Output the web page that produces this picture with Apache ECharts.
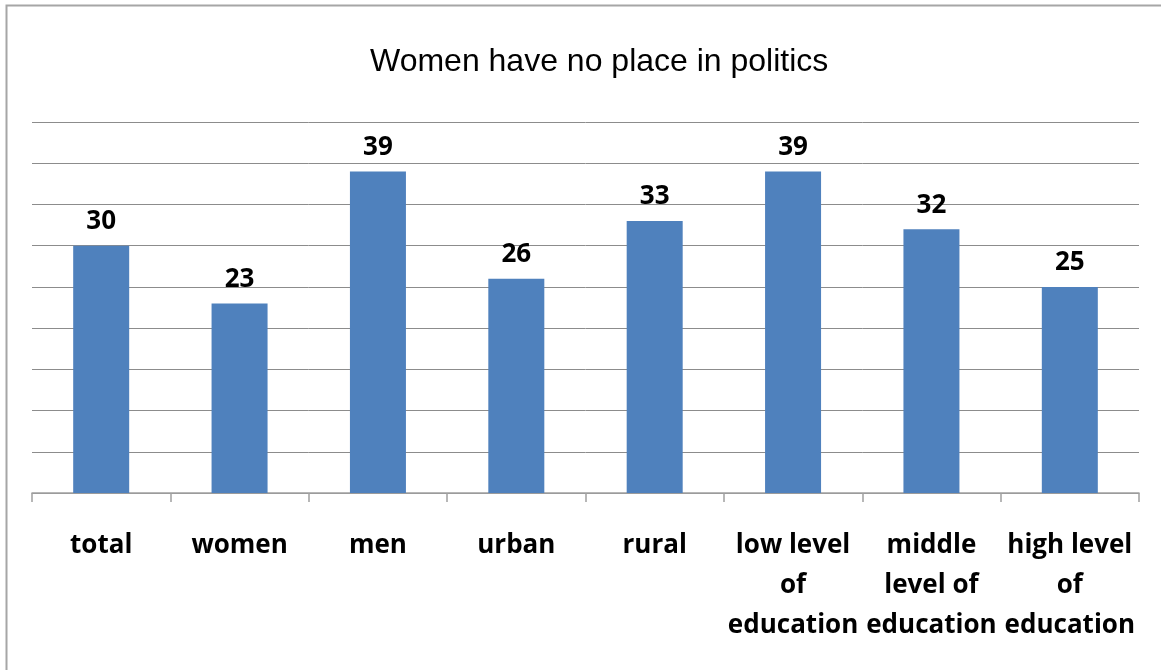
<!DOCTYPE html>
<html>
<head>
<meta charset="utf-8">
<script src="https://cdn.jsdelivr.net/npm/echarts@6/dist/echarts.min.js"></script>
<style>
html,body{margin:0;padding:0;background:#fff;}
#chart{width:1161px;height:670px;}
</style>
</head>
<body>
<div id="chart"></div>
<script>
const titleText = 'Women have no place in politics';
const categories = ['total', 'women', 'men', 'urban', 'rural', 'low level\nof\neducation', 'middle\nlevel of\neducation', 'high level\nof\neducation'];
const values = [30, 23, 39, 26, 33, 39, 32, 25];

const chart = echarts.init(document.getElementById('chart'), null, {renderer: 'canvas'});
chart.setOption({
  backgroundColor: '#ffffff',
  animation: false,
  graphic: [{
    type: 'rect',
    shape: {x: 6.5, y: 5.5, width: 1300, height: 800},
    style: {fill: 'none', stroke: '#a6a6a6', lineWidth: 2},
    silent: true
  }],
  title: {
    text: titleText,
    left: 365,
    top: 41,
    textStyle: {fontFamily: 'Liberation Sans, Arial, sans-serif', fontSize: 32, fontWeight: 'normal', color: '#000'}
  },
  grid: {left: 32, right: 22, top: 122, bottom: 177, containLabel: false},
  xAxis: {
    type: 'category',
    data: categories,
    axisLine: {show: true, lineStyle: {color: '#a0a0a0', width: 1.5}},
    axisTick: {show: true, length: 9, alignWithLabel: false, lineStyle: {color: '#a0a0a0', width: 1.5}},
    axisLabel: {
      interval: 0,
      margin: 33,
      fontFamily: 'Open Sans, Lato, sans-serif',
      fontWeight: 'bold',
      fontSize: 26,
      lineHeight: 40,
      color: '#000'
    }
  },
  yAxis: {
    type: 'value',
    min: 0,
    max: 45,
    interval: 5,
    axisLine: {show: false},
    axisTick: {show: false},
    axisLabel: {show: false},
    splitLine: {show: true, lineStyle: {color: '#8c8c8c', width: 1}}
  },
  series: [{
    type: 'bar',
    data: values,
    barWidth: 56,
    itemStyle: {color: '#4f81bd'},
    label: {
      show: true,
      position: 'top',
      distance: 11,
      fontFamily: 'Open Sans, Lato, sans-serif',
      fontWeight: 'bold',
      fontSize: 26,
      color: '#000'
    }
  }]
});
</script>
</body>
</html>
